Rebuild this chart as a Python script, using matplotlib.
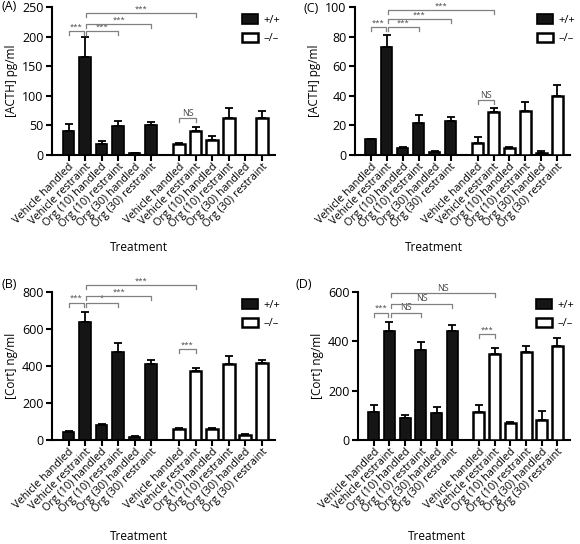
import matplotlib.pyplot as plt
import numpy as np

plt.rcParams['font.family'] = ['Open Sans', 'DejaVu Sans']

treatments = ['Vehicle handled', 'Vehicle restraint', 'Org (10) handled',
              'Org (10) restraint', 'Org (30) handled', 'Org (30) restraint']
genotypes = ['+/+', '\u2013/\u2013']

# panel A: ACTH
acth_a_wt = [40, 166, 19, 49, 3, 50]
acth_a_wt_err = [13, 34, 5, 8, 1, 6]
acth_a_ko = [18, 41, 25, 62, 0.5, 62]
acth_a_ko_err = [3, 6, 7, 18, 0, 12]

# panel C: ACTH
acth_c_wt = [10.5, 73, 4.5, 21.5, 2, 23]
acth_c_wt_err = [0.5, 8, 1, 5.5, 1, 2.5]
acth_c_ko = [8, 29, 5, 30, 1.5, 40]
acth_c_ko_err = [4, 2.5, 0.5, 6, 1, 7]

# panel B: Cort
cort_b_wt = [45, 640, 80, 475, 18, 410]
cort_b_wt_err = [3, 53, 5, 47, 2, 23]
cort_b_ko = [57, 375, 62, 410, 25, 418]
cort_b_ko_err = [8, 13, 5, 45, 5, 17]

# panel D: Cort
cort_d_wt = [115, 440, 88, 365, 108, 442]
cort_d_wt_err = [25, 38, 12, 33, 25, 24]
cort_d_ko = [115, 350, 70, 355, 83, 383]
cort_d_ko_err = [25, 25, 5, 28, 35, 30]

# significance brackets: (bar i, bar j, height, label)
sig_a = [(0, 1, 209, '***'), (1, 3, 209, '***'), (1, 5, 221, '***'),
         (1, 7, 240, '***'), (6, 7, 62, 'NS')]
sig_c = [(0, 1, 86.5, '***'), (1, 3, 86.5, '***'), (1, 5, 92, '***'),
         (1, 7, 98, '***'), (6, 7, 37, 'NS')]
sig_b = [(0, 1, 742, '***'), (1, 3, 742, '*'), (1, 5, 778, '***'),
         (1, 7, 838, '***'), (6, 7, 492, '***')]
sig_d = [(0, 1, 516, '***'), (1, 3, 516, 'NS'), (1, 5, 553, 'NS'),
         (1, 7, 595, 'NS'), (6, 7, 428, '***')]

pos = np.concatenate([np.arange(6), np.arange(6) + 6.7])


def panel(rect, letter, letter_xy, xlab_xy, wt, wt_err, ko, ko_err, ymax,
          ystep, ylabel, sigs):
    ax = fig.add_axes(rect)
    ax.bar(pos[:6], wt, 0.7, color='#151515', edgecolor='black', lw=1.2,
           label=genotypes[0], zorder=3)
    ax.bar(pos[6:], ko, 0.7, color='white', edgecolor='black', lw=1.8,
           label=genotypes[1], zorder=3)
    vals = list(wt) + list(ko)
    errs = list(wt_err) + list(ko_err)
    ax.errorbar(pos, vals, yerr=[np.zeros(12), errs], fmt='none',
                ecolor='black', elinewidth=1.3, capsize=3, capthick=1.3, zorder=2)
    tick = ymax * 0.012
    for i, j, h, lab in sigs:
        x0 = pos[i] + (0.08 if i == 1 else 0)
        x1 = pos[j] - (0.08 if j == 1 else 0)
        ax.plot([x0, x0, x1, x1], [h - tick * 2.2, h, h, h - tick * 2.2],
                color='#808080', lw=0.9, clip_on=False, zorder=4)
        ax.text((x0 + x1) / 2, h + tick * 0.3, lab, ha='center', va='bottom',
                fontsize=5.5 if lab != 'NS' else 6.5, color='#444444',
                clip_on=False)
    ax.set_xlim(-1, 12.5)
    ax.set_ylim(0, ymax)
    ax.set_yticks(np.arange(0, ymax + 1, ystep))
    ax.set_xticks(pos)
    ax.set_xticklabels(treatments * 2, rotation=45, ha='right',
                       rotation_mode='anchor', fontsize=7.8)
    ax.tick_params(axis='x', length=4, width=1.5, pad=0.5)
    ax.tick_params(axis='y', length=4, width=1.5, labelsize=9, pad=2)
    for s in ['top', 'right']:
        ax.spines[s].set_visible(False)
    for s in ['left', 'bottom']:
        ax.spines[s].set_linewidth(1.5)
    ax.set_ylabel(ylabel, fontsize=8.5, labelpad=3)
    ax.set_xlabel('Treatment', fontsize=8.5, va='center')
    # position of the axis title in figure pixels
    ax.xaxis.set_label_coords(xlab_xy[0] / 580, 1 - xlab_xy[1] / 544,
                              transform=fig.transFigure)
    ax.legend(loc='upper right', bbox_to_anchor=(1.07, 1.02), frameon=False,
              fontsize=8, handlelength=1.45, handleheight=0.95,
              labelspacing=0.65, handletextpad=0.5)
    fig.text(letter_xy[0] / 580, 1 - letter_xy[1] / 544, letter, fontsize=9,
             ha='left', va='center')
    return ax


fig = plt.figure(figsize=(5.8, 5.44), dpi=100)
panel([52 / 580, 1 - 155 / 544, 223 / 580, 148 / 544], '(A)', (2, 6),
      (139, 248), acth_a_wt, acth_a_wt_err, acth_a_ko, acth_a_ko_err,
      250, 50, '[ACTH] pg/ml', sig_a)
panel([355 / 580, 1 - 155 / 544, 215 / 580, 148 / 544], '(C)', (303, 8),
      (434, 248), acth_c_wt, acth_c_wt_err, acth_c_ko, acth_c_ko_err,
      100, 20, '[ACTH] pg/ml', sig_c)
panel([52 / 580, 1 - 440 / 544, 223 / 580, 148 / 544], '(B)', (2, 285),
      (139, 536), cort_b_wt, cort_b_wt_err, cort_b_ko, cort_b_ko_err,
      800, 200, '[Cort] ng/ml', sig_b)
panel([358 / 580, 1 - 440 / 544, 212 / 580, 148 / 544], '(D)', (295, 285),
      (437, 536), cort_d_wt, cort_d_wt_err, cort_d_ko, cort_d_ko_err,
      600, 200, '[Cort] ng/ml', sig_d)

fig.savefig('out.png', dpi=100)
